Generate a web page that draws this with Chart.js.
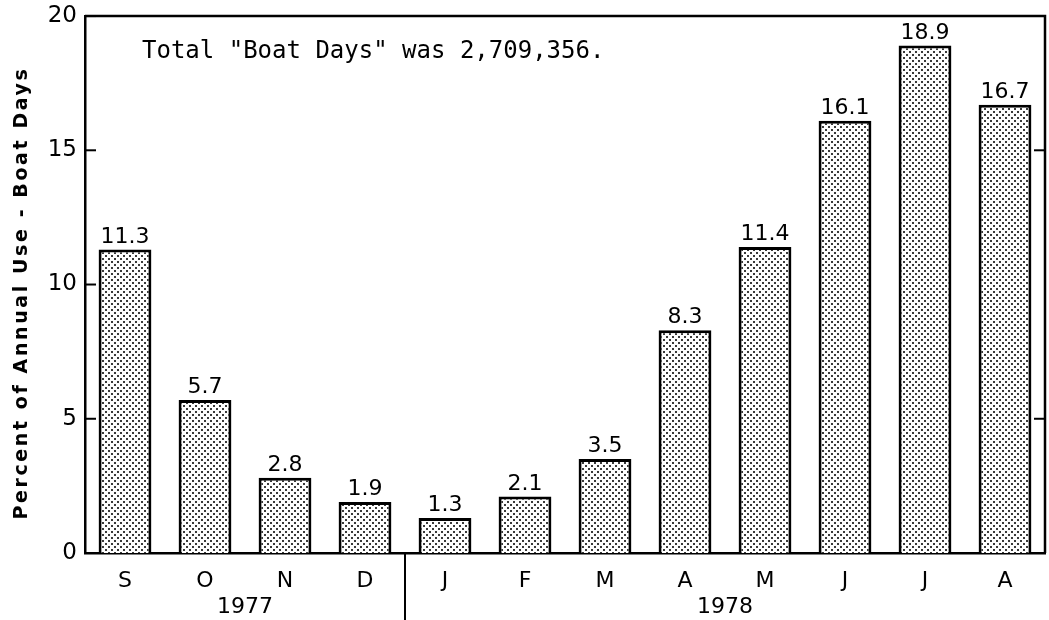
<!DOCTYPE html>
<html>
<head>
<meta charset="utf-8">
<script src="https://cdn.jsdelivr.net/npm/chart.js@4/dist/chart.umd.min.js"></script>
<style>
  html, body { margin: 0; padding: 0; background: #fff; }
  #wrap { width: 1049px; height: 620px; }
</style>
</head>
<body>
<div id="wrap"><canvas id="chart-boat-days"></canvas></div>
<script>
const months = ["S", "O", "N", "D", "J", "F", "M", "A", "M", "J", "J", "A"];
const percentBoatDays = [11.3, 5.7, 2.8, 1.9, 1.3, 2.1, 3.5, 8.3, 11.4, 16.1, 18.9, 16.7];
const years = ["1977", "1978"];
const yearFirstMonth = [0, 4];
const yTicks = [0, 5, 10, 15, 20];
const rightTicks = [5, 15];
const yTitle = "Percent of Annual Use - Boat Days";
const note = 'Total "Boat Days" was 2,709,356.';

const letterFont = "'DejaVu Sans', sans-serif";

function dotPattern() {
  const c = document.createElement("canvas");
  c.width = 6;
  c.height = 6;
  const g = c.getContext("2d");
  g.fillStyle = "#fff";
  g.fillRect(0, 0, 6, 6);
  g.fillStyle = "#3a3a3a";
  g.fillRect(0, 0, 2, 2);
  g.fillRect(3, 3, 2, 2);
  return g.createPattern(c, "repeat");
}

// frame, inward ticks, value labels, years, axis title
const extras = {
  id: "extras",
  afterDraw(chart) {
    const ctx = chart.ctx;
    const a = chart.chartArea;
    const x = chart.scales.x;
    const y = chart.scales.y;
    ctx.save();
    ctx.strokeStyle = "#000";
    ctx.lineWidth = 2.5;

    ctx.beginPath();
    ctx.moveTo(a.left, a.top);
    ctx.lineTo(a.right, a.top);
    ctx.lineTo(a.right, a.bottom);
    ctx.stroke();

    ctx.lineWidth = 2;
    yTicks.forEach((v) => {
      const py = y.getPixelForValue(v);
      ctx.beginPath();
      ctx.moveTo(a.left, py);
      ctx.lineTo(a.left + 11, py);
      ctx.stroke();
    });
    rightTicks.forEach((v) => {
      const py = y.getPixelForValue(v);
      ctx.beginPath();
      ctx.moveTo(a.right, py);
      ctx.lineTo(a.right - 11, py);
      ctx.stroke();
    });

    // value labels
    ctx.fillStyle = "#000";
    ctx.font = "22px " + letterFont;
    ctx.textAlign = "center";
    ctx.textBaseline = "alphabetic";
    chart.getDatasetMeta(0).data.forEach((bar, i) => {
      ctx.fillText(percentBoatDays[i].toFixed(1), bar.x, bar.y - 7);
    });

    // year separator and labels
    const step = x.getPixelForValue(1) - x.getPixelForValue(0);
    ctx.font = "22px " + letterFont;
    ctx.textBaseline = "middle";
    years.forEach((yr, k) => {
      const from = x.getPixelForValue(yearFirstMonth[k]) - step / 2;
      const lastIdx = k + 1 < years.length ? yearFirstMonth[k + 1] - 1 : months.length - 1;
      const to = x.getPixelForValue(lastIdx) + step / 2;
      ctx.fillText(yr, (from + to) / 2, a.bottom + 54);
      if (k > 0) {
        ctx.beginPath();
        ctx.moveTo(from, a.bottom);
        ctx.lineTo(from, chart.height);
        ctx.stroke();
      }
    });

    // y axis title, spaced out
    ctx.save();
    ctx.translate(22, 293);
    ctx.rotate(-Math.PI / 2);
    ctx.font = "bold 19px " + letterFont;
    ctx.letterSpacing = "2.6px";
    ctx.textBaseline = "middle";
    ctx.fillText(yTitle, 0, 0);
    ctx.restore();

    // note
    ctx.font = "24px 'DejaVu Sans Mono', monospace";
    ctx.textAlign = "left";
    ctx.fillText(note, a.left + 57, a.top + 36);
    ctx.restore();
  },
};

function renderChart() {
  const canvas = document.getElementById("chart-boat-days");

  const data = {
    labels: months,
    datasets: [
      {
        data: percentBoatDays,
        backgroundColor: dotPattern(),
        borderColor: "#000",
        borderWidth: 3,
        borderSkipped: "bottom",
        barPercentage: 0.66,
        categoryPercentage: 1,
      },
    ],
  };

  const config = {
    type: "bar",
    data: data,
    options: {
      responsive: true,
      maintainAspectRatio: false,
      animation: false,
      layout: { padding: { top: 0, right: 4, left: 0, bottom: 0 } },
      plugins: {
        legend: { display: false },
        tooltip: { enabled: false },
      },
      scales: {
        x: {
          grid: { display: false, drawTicks: false },
          border: { color: "#000", width: 2.5 },
          ticks: {
            color: "#000",
            padding: 15,
            font: { family: letterFont, size: 22 },
          },
          afterFit(scale) {
            scale.height = 67;
          },
        },
        y: {
          min: 0,
          max: 20,
          afterBuildTicks(scale) {
            scale.ticks = yTicks.map((v) => ({ value: v }));
          },
          grid: { display: false, drawTicks: false },
          border: { color: "#000", width: 2.5 },
          ticks: {
            color: "#000",
            padding: 8,
            font: { family: letterFont, size: 23, lineHeight: 0.7 },
          },
          afterFit(scale) {
            scale.width = 85;
          },
        },
      },
    },
    plugins: [extras],
  };

  new Chart(canvas, config);
}

renderChart();
</script>
</body>
</html>
